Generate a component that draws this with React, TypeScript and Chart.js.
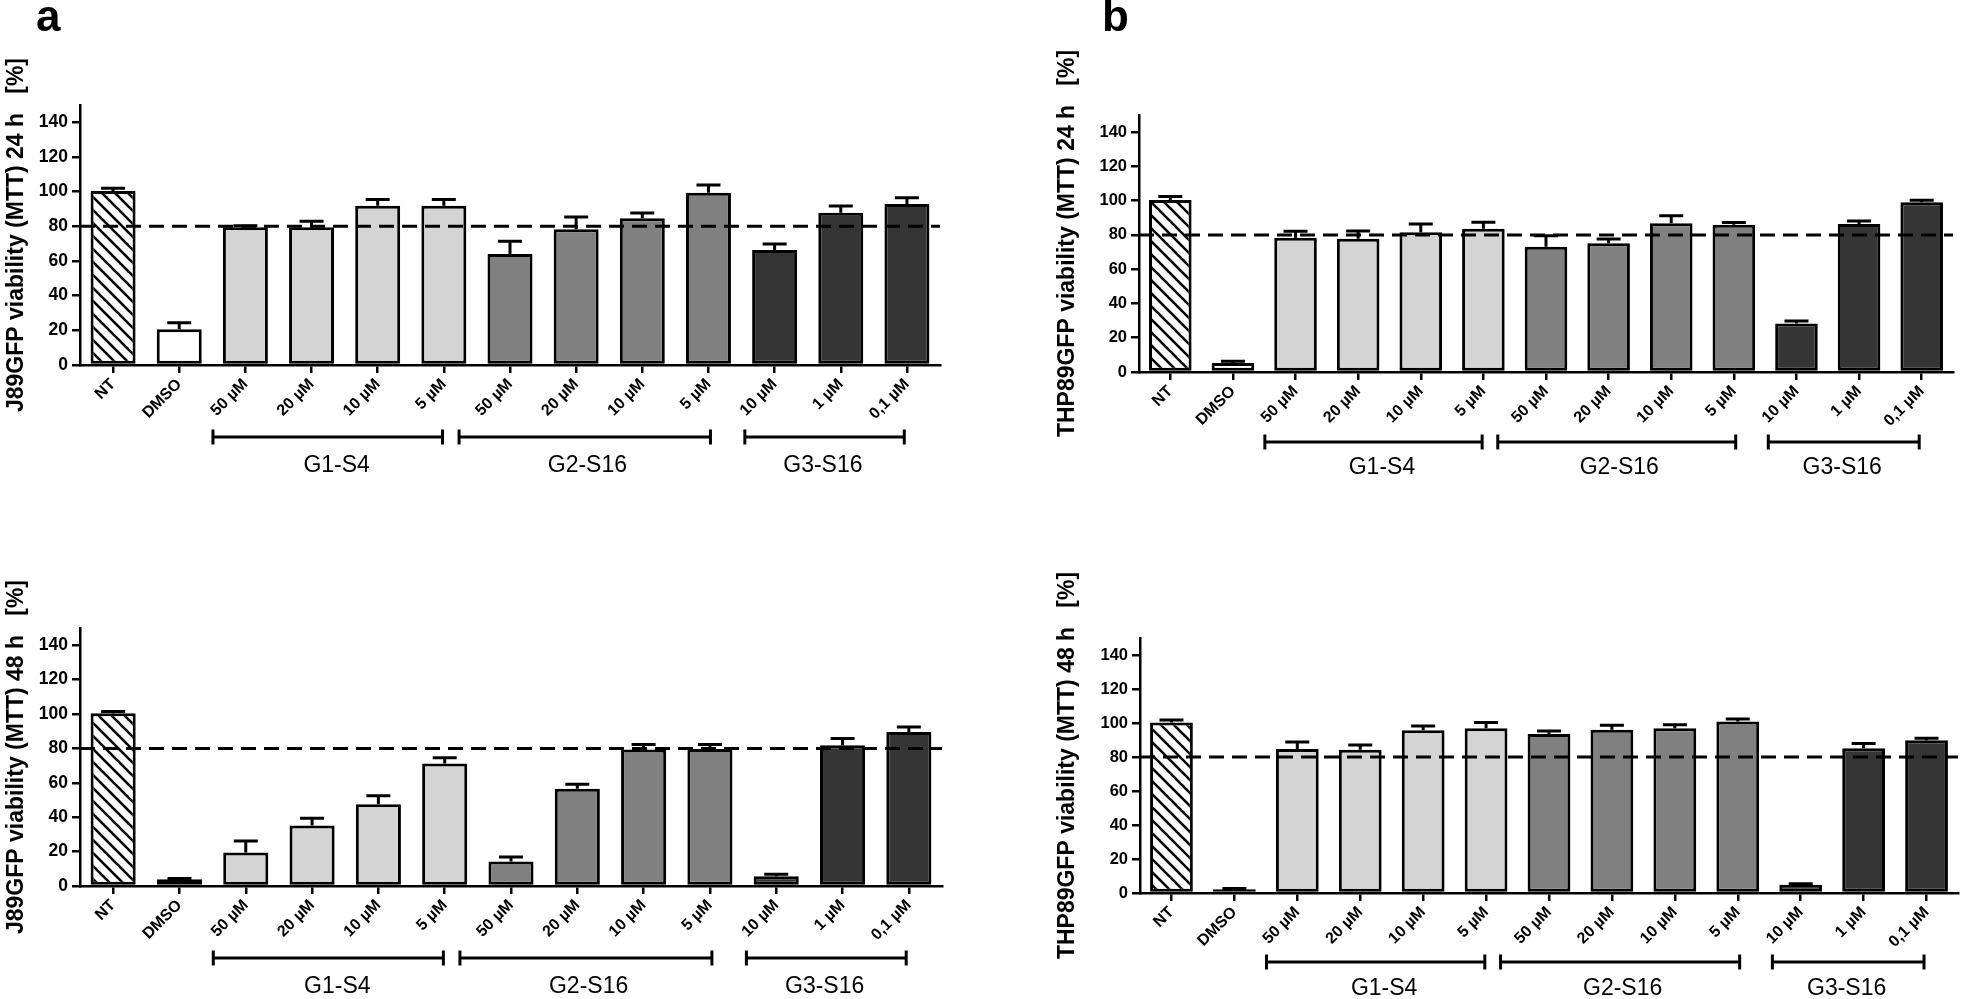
import React, { useEffect, useRef } from 'react';
import { Chart, registerables } from 'chart.js';

Chart.register(...registerables);

// ---------------- data ----------------
const CATEGORIES = ['NT', 'DMSO', '50 µM', '20 µM', '10 µM', '5 µM', '50 µM', '20 µM', '10 µM', '5 µM', '10 µM', '1 µM', '0,1 µM'];
const BAR_GROUP = ['nt', 'dmso', 'g1', 'g1', 'g1', 'g1', 'g2', 'g2', 'g2', 'g2', 'g3', 'g3', 'g3'];
const Y_TICKS = [0, 20, 40, 60, 80, 100, 120, 140];
const Y_MAX = 150;
const THRESHOLD = 80;

const J89_24H = [100.4, 20.6, 79.4, 79.4, 91.9, 91.9, 64.0, 78.3, 84.6, 99.4, 66.4, 87.9, 92.9];
const J89_24H_ERR = [1.5, 3.8, 1.0, 3.5, 3.6, 3.6, 7.4, 7.1, 3.1, 4.5, 3.4, 3.9, 3.6];
const J89_48H = [100.4, 3.9, 19.5, 35.2, 47.6, 71.2, 14.3, 56.5, 79.3, 79.7, 5.6, 81.8, 89.5];
const J89_48H_ERR = [1.0, 0.5, 6.6, 4.2, 4.8, 3.3, 2.5, 2.7, 2.9, 2.5, 1.2, 4.0, 2.9];
const THP89_24H = [100.4, 5.3, 78.4, 77.8, 81.5, 83.6, 73.1, 75.1, 86.8, 86.0, 28.3, 86.4, 99.1];
const THP89_24H_ERR = [2.0, 1.0, 3.7, 4.5, 4.9, 3.8, 6.4, 2.5, 4.4, 1.2, 1.5, 1.7, 1.1];
const THP89_48H = [100.3, 2.2, 84.7, 84.3, 95.7, 96.9, 93.6, 96.1, 96.9, 100.9, 4.9, 85.1, 89.8];
const THP89_48H_ERR = [1.5, 0.5, 4.1, 2.7, 2.6, 3.4, 1.7, 2.6, 2.0, 1.5, 0.6, 2.8, 1.2];

const GROUP_LABELS = ['G1-S4', 'G2-S16', 'G3-S16'];
const GROUP_START = [1.51, 5.23, 9.55];
const GROUP_END = [4.98, 9.03, 11.96];
const GROUP_LABEL_AT = [3.38, 7.17, 10.73];

const GROUP_COLORS: Record<string, string> = {
  dmso: '#ffffff',
  g1: '#d4d4d4',
  g2: '#808080',
  g3: '#353535',
};

const FONT = "'Liberation Sans', Arial, Helvetica, sans-serif";

function makeHatch(): CanvasPattern | string {
  const s = 13;
  const c = document.createElement('canvas');
  c.width = s;
  c.height = s;
  const g = c.getContext('2d');
  if (!g) return '#fff';
  g.fillStyle = '#ffffff';
  g.fillRect(0, 0, s, s);
  g.strokeStyle = '#000';
  g.lineWidth = 2.6;
  g.beginPath();
  for (let k = -1; k <= 1; k++) {
    g.moveTo(k * s - 2, -2);
    g.lineTo(k * s + s + 2, s + 2);
  }
  g.stroke();
  return g.createPattern(c, 'repeat') || '#fff';
}

type Area = { left: number; top: number; right: number; bottom: number };
type PanelProps = {
  x: number;
  y: number;
  w: number;
  h: number;
  area: Area;
  values: number[];
  errors: number[];
  title: string;
  titleX: number;
  tickSize: number;
  bracketGap: number;
  labelGap: number;
};

function Panel(p: PanelProps) {
  const ref = useRef<HTMLCanvasElement>(null);
  useEffect(() => {
    const canvas = ref.current;
    if (!canvas) return;
    const hatch = makeHatch();
    const colors = BAR_GROUP.map((g) => (g === 'nt' ? hatch : GROUP_COLORS[g]));

    const errorBars = {
      id: 'errorBars',
      afterDatasetsDraw(chart: any) {
        const ctx = chart.ctx;
        const meta = chart.getDatasetMeta(0);
        const ys = chart.scales.y;
        ctx.save();
        ctx.strokeStyle = '#000';
        ctx.lineWidth = 3;
        meta.data.forEach((bar: any, i: number) => {
          const v = p.values[i];
          const e = p.errors[i];
          const y0 = ys.getPixelForValue(v);
          const y1 = ys.getPixelForValue(v + e);
          ctx.beginPath();
          ctx.moveTo(bar.x, y0);
          ctx.lineTo(bar.x, y1);
          ctx.moveTo(bar.x - 12, y1);
          ctx.lineTo(bar.x + 12, y1);
          ctx.stroke();
        });
        // threshold line
        const ty = ys.getPixelForValue(THRESHOLD);
        ctx.setLineDash([15, 8]);
        ctx.lineWidth = 3;
        ctx.beginPath();
        ctx.moveTo(chart.chartArea.left, ty);
        ctx.lineTo(chart.chartArea.right, ty);
        ctx.stroke();
        ctx.restore();
      },
    };

    const decorations = {
      id: 'decorations',
      afterDraw(chart: any) {
        const ctx = chart.ctx;
        const xs = chart.scales.x;
        const ca = chart.chartArea;
        const base = ca.bottom;
        const by = base + p.bracketGap;
        ctx.save();
        ctx.strokeStyle = '#000';
        ctx.lineWidth = 3;
        GROUP_LABELS.forEach((lab, i) => {
          const x0 = xs.getPixelForValue(GROUP_START[i]);
          const x1 = xs.getPixelForValue(GROUP_END[i]);
          ctx.beginPath();
          ctx.moveTo(x0, by);
          ctx.lineTo(x1, by);
          ctx.moveTo(x0, by - 7.5);
          ctx.lineTo(x0, by + 7.5);
          ctx.moveTo(x1, by - 7.5);
          ctx.lineTo(x1, by + 7.5);
          ctx.stroke();
          ctx.fillStyle = '#000';
          ctx.font = `23px ${FONT}`;
          ctx.textAlign = 'center';
          ctx.textBaseline = 'middle';
          ctx.fillText(lab, xs.getPixelForValue(GROUP_LABEL_AT[i]), base + p.labelGap);
        });
        ctx.restore();
        // y-axis title (drawn without width compression)
        ctx.save();
        ctx.translate(p.titleX, (ca.top + ca.bottom) / 2);
        ctx.rotate(-Math.PI / 2);
        ctx.font = `bold 23px ${FONT}`;
        ctx.fillStyle = '#000';
        ctx.textAlign = 'center';
        ctx.textBaseline = 'middle';
        ctx.fillText(p.title, 0, 0);
        ctx.restore();
      },
    };

    const chart = new Chart(canvas, {
      type: 'bar',
      data: {
        labels: CATEGORIES,
        datasets: [
          {
            data: p.values,
            backgroundColor: colors as any,
            borderColor: '#000',
            borderWidth: 3,
            borderSkipped: false,
            barPercentage: 0.68,
            categoryPercentage: 1,
          },
        ],
      },
      options: {
        animation: false,
        responsive: false,
        maintainAspectRatio: false,
        events: [],
        layout: { padding: { left: 0, top: p.area.top, right: p.w - p.area.right, bottom: 0 } },
        plugins: { legend: { display: false }, tooltip: { enabled: false } },
        scales: {
          x: {
            afterFit: (s: any) => {
              s.height = p.h - p.area.bottom;
            },
            grid: { drawOnChartArea: false, offset: false, color: '#000', lineWidth: 2.5, tickLength: 8 },
            border: { display: true, color: '#000', width: 2.5 },
            ticks: {
              minRotation: 45,
              maxRotation: 45,
              autoSkip: false,
              color: '#000',
              padding: 2,
              font: { family: FONT, size: 16, weight: 'bold' },
            },
          },
          y: {
            min: 0,
            max: Y_MAX,
            afterFit: (s: any) => {
              s.width = p.area.left;
            },
            afterBuildTicks: (s: any) => {
              s.ticks = Y_TICKS.map((v) => ({ value: v }));
            },
            grid: { drawOnChartArea: false, color: '#000', lineWidth: 2.5, tickLength: 8 },
            border: { display: true, color: '#000', width: 2.5 },
            ticks: {
              color: '#000',
              padding: 4,
              font: { family: FONT, size: p.tickSize, weight: 'bold' },
            },
            title: { display: false },
          },
        },
      } as any,
      plugins: [errorBars, decorations],
    });
    return () => chart.destroy();
  }, []);
  return (
    <canvas
      ref={ref}
      width={p.w}
      height={p.h}
      style={{ position: 'absolute', left: p.x, top: p.y, width: p.w, height: p.h }}
    />
  );
}

export default function App() {
  const letter: React.CSSProperties = {
    position: 'absolute',
    fontFamily: FONT,
    fontWeight: 'bold',
    fontSize: 44,
    lineHeight: '44px',
    color: '#000',
  };
  return (
    <div style={{ position: 'absolute', left: 0, top: 0, width: 1961, height: 999, background: '#fff', overflow: 'hidden' }}>
      <Panel
        x={0}
        y={0}
        w={980}
        h={500}
        area={{ left: 80, top: 105, right: 940, bottom: 365 }}
        values={J89_24H}
        errors={J89_24H_ERR}
        title={'J89GFP viability (MTT) 24 h   [%]'}
        titleX={17}
        tickSize={17.5}
        bracketGap={72}
        labelGap={101}
      />
      <Panel
        x={0}
        y={500}
        w={980}
        h={499}
        area={{ left: 80, top: 128, right: 942, bottom: 386 }}
        values={J89_48H}
        errors={J89_48H_ERR}
        title={'J89GFP viability (MTT) 48 h   [%]'}
        titleX={17}
        tickSize={17.5}
        bracketGap={72}
        labelGap={101}
      />
      <Panel
        x={1040}
        y={0}
        w={921}
        h={500}
        area={{ left: 99, top: 115, right: 913, bottom: 372 }}
        values={THP89_24H}
        errors={THP89_24H_ERR}
        title={'THP89GFP viability (MTT) 24 h   [%]'}
        titleX={28}
        tickSize={16.5}
        bracketGap={70}
        labelGap={96}
      />
      <Panel
        x={1040}
        y={500}
        w={921}
        h={499}
        area={{ left: 100, top: 138, right: 918, bottom: 393 }}
        values={THP89_48H}
        errors={THP89_48H_ERR}
        title={'THP89GFP viability (MTT) 48 h   [%]'}
        titleX={28}
        tickSize={16.5}
        bracketGap={69}
        labelGap={96}
      />
      <div style={{ ...letter, left: 36, top: -6 }}>a</div>
      <div style={{ ...letter, left: 1102, top: -6 }}>b</div>
    </div>
  );
}
